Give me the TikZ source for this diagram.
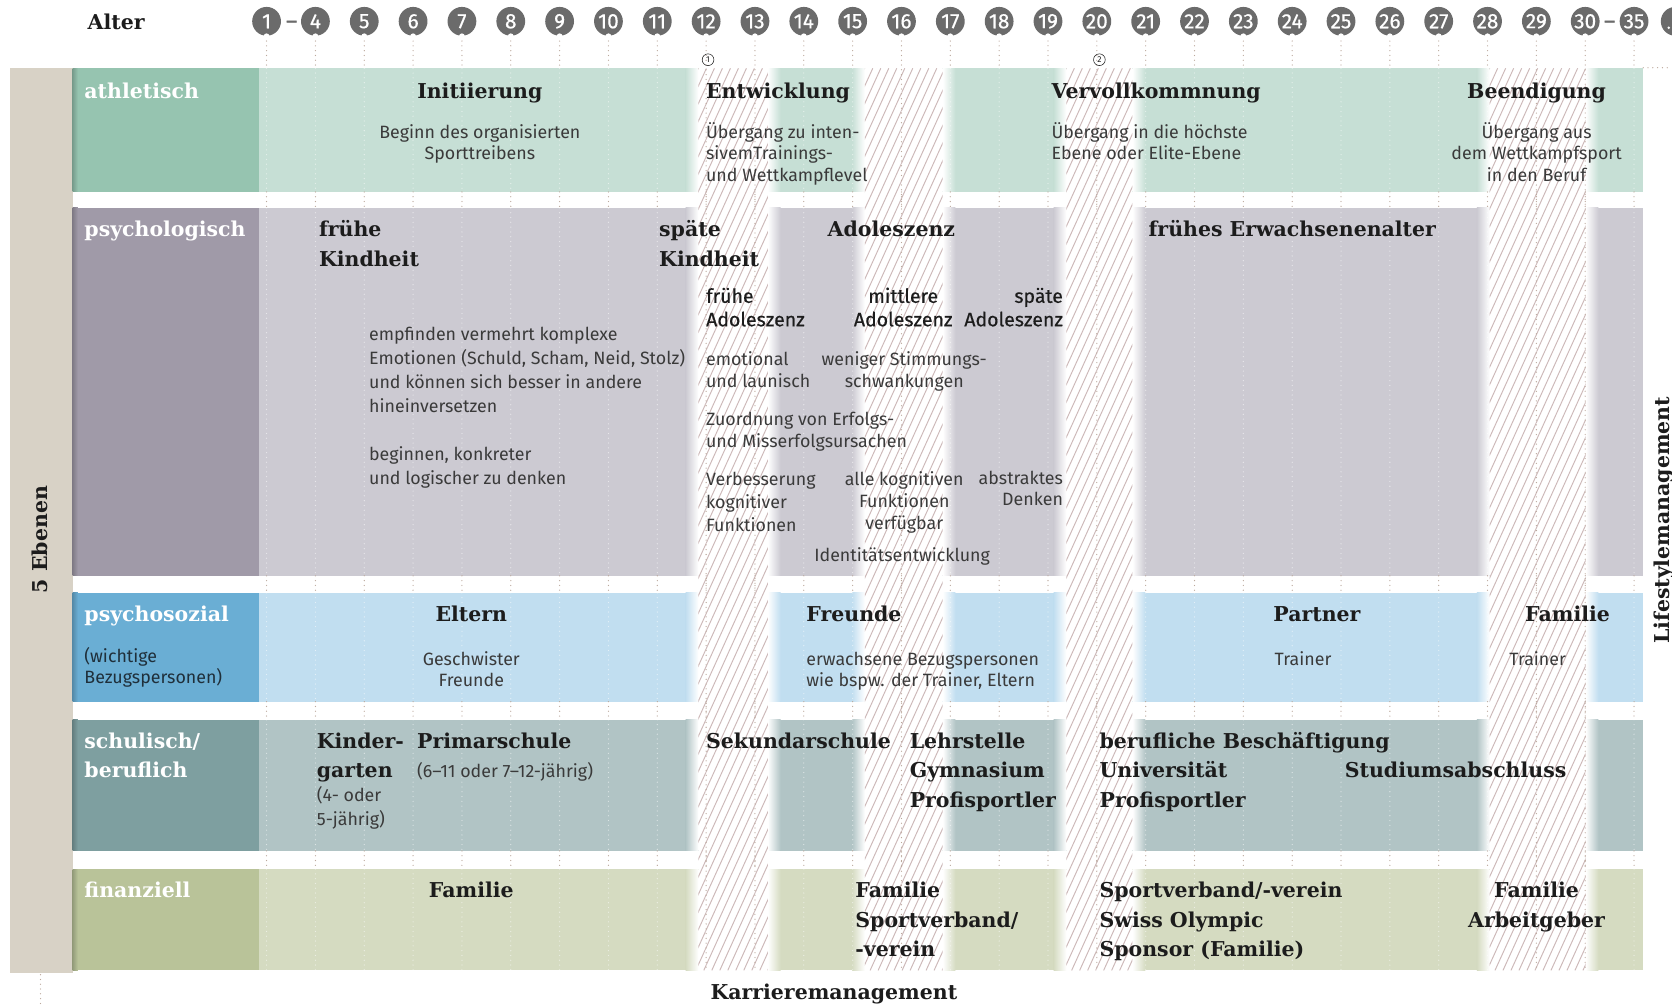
\documentclass[tikz,border=0pt]{standalone}
\usepackage{fontspec}
\setmainfont{DejaVu Serif}
\setsansfont{Fira Sans}
\newfontfamily\medfont{Fira Sans}[FakeBold=0.5]
\newfontfamily\dashfont{Fira Sans}[FakeBold=2]
\definecolor{tanbar}{HTML}{D8D2C6}
\definecolor{athL}{HTML}{96C4B0}
\definecolor{athC}{HTML}{C6DFD5}
\definecolor{psyL}{HTML}{A09AA8}
\definecolor{psyC}{HTML}{CCCAD2}
\definecolor{socL}{HTML}{6AAED4}
\definecolor{socC}{HTML}{C1DEF0}
\definecolor{schL}{HTML}{7E9FA0}
\definecolor{schC}{HTML}{B1C4C5}
\definecolor{finL}{HTML}{B9C399}
\definecolor{finC}{HTML}{D5DBC1}
\definecolor{agegray}{HTML}{6B6B6B}
\definecolor{hatchc}{HTML}{CDB9B9}
\definecolor{dotc}{HTML}{BBA89C}
\definecolor{headc}{HTML}{1C1C1C}
\definecolor{bodyc}{HTML}{3A3A3A}
\definecolor{socT}{HTML}{1F2F3A}
\tikzset{
 head/.style={font=\fontsize{19.2}{27}\selectfont\bfseries, text=headc, inner sep=0pt},
 lab/.style={font=\fontsize{19.2}{27}\selectfont\bfseries, text=white, inner sep=0pt},
 body/.style={font=\sffamily\fontsize{16.7}{20}\selectfont, text=bodyc, inner sep=0pt},
 med/.style={font=\medfont\fontsize{18.3}{22}\selectfont, text=headc, inner sep=0pt},
 agecirc/.style={circle, fill=agegray, minimum size=27pt, inner sep=0pt, text=white, font=\medfont\fontsize{19.5}{19.5}\selectfont},
 agedash/.style={font=\dashfont\fontsize{20}{20}\selectfont, text=agegray, inner sep=0pt, anchor=base},
 hatch/.style={draw=hatchc, line width=0.9pt},
 dots/.style={line width=1.2pt, dash pattern=on 0pt off 4.5pt, line cap=round}
}
\newcommand\ML[7]{%
 \foreach \mytl [count=\k from 0] in {#7}{\node[#1,anchor=#2] (#3\k) at (#4,{#5+\k*#6}) {\mytl};}}
\begin{document}
\begin{tikzpicture}[x=1pt,y=-1pt]
\useasboundingbox (0,0) rectangle (1568,942);
\fill[white] (0,0) rectangle (1568,942);
% tan bar
\fill[tanbar] (9,64) rectangle (68,912);
% rows
\foreach \ya/\yb/\cl/\cc in {64/180/athL/athC,195/540/psyL/psyC,556/658/socL/socC,675/798/schL/schC,815/910/finL/finC}{
 \fill[\cl] (68,\ya) rectangle (243,\yb);
 \shade[left color=\cl!80!black, right color=\cl] (68,\ya) rectangle (73,\yb);
 \fill[\cc] (243,\ya) rectangle (1541,\yb);
 \foreach \xa/\xb in {655/720,811/884,1000/1062,1397/1487}{
  \shade[left color=\cc, right color=white] ({\xa-12},\ya) rectangle (\xa,\yb);
  \shade[left color=white, right color=\cc] (\xb,\ya) rectangle ({\xb+12},\yb);
 }
}
% hatched transition bands
\foreach \xa/\xb in {655/720,811/884,1000/1062,1397/1487}{
 \begin{scope}
  \clip (\xa,64) rectangle (\xb,910);
  \fill[white] (\xa,64) rectangle (\xb,910);
  \foreach \s in {0,...,68} \draw[hatch] ({\xa-385+\s*7.5},910) -- ++(385,-846);
 \end{scope}
}
% dotted age lines
\foreach \i in {0,...,28}{
 \pgfmathsetmacro\xx{250+45.8*\i}
 \foreach \ya/\yb in {34/64,180/195,540/556,658/675,798/815} \draw[dots,dotc] (\xx,\ya)--(\xx,\yb);
 \foreach \ya/\yb in {64/180,195/540,556/658,675/798,815/910} \draw[dots,white,opacity=0.55] (\xx,\ya)--(\xx,\yb);
}
\begin{scope}
 \clip (655,64) rectangle (720,910) (811,64) rectangle (884,910) (1000,64) rectangle (1062,910) (1397,64) rectangle (1487,910);
 \foreach \i in {0,...,28}{\pgfmathsetmacro\xx{250+45.8*\i}\draw[dots,dotc] (\xx,34)--(\xx,910);}
\end{scope}
\draw[dots,dotc] (1541,63.5) -- (1568,63.5);
\draw[dots,dotc] (38,914) -- (38,942);
% age circles
\foreach \n [count=\i from 0] in {1,4,5,6,7,8,9,10,11,12,13,14,15,16,17,18,19,20,21,22,23,24,25,26,27,28,29,30,35}{
 \node[agecirc] (age\i) at ({250+45.8*\i},20) {\n};
 \fill[white] ({250+45.8*\i},34) circle (2.7pt);
}
\fill[agegray] (1571,20) circle (13.5pt);
\fill[white] (1565,26) circle (1.3pt);
\node[agedash] (dash1) at (273.5,26.5) {–};
\node[agedash] (dash2) at (1509.5,26.5) {–};
\node[circle, draw=headc, line width=0.5pt, inner sep=0pt, minimum size=11pt, font=\sffamily\fontsize{8}{8}\selectfont, text=headc] (m1) at (664,56) {1};
\node[circle, draw=headc, line width=0.5pt, inner sep=0pt, minimum size=11pt, font=\sffamily\fontsize{8}{8}\selectfont, text=headc] (m2) at (1031,56) {2};
% header
\node[head,anchor=base west] (alter) at (82,28) {Alter};
% athletisch
\node[lab,anchor=base west] (lath) at (79,92) {athletisch};
\node[head,anchor=base] (ini) at (450,92) {Initiierung};
\ML{body}{base}{inid}{450}{130}{20}{Beginn des organisierten,Sporttreibens}
\node[head,anchor=base west] (ent) at (662,92) {Entwicklung};
\ML{body}{base west}{entd}{662}{130}{20}{Übergang zu inten-,sivemTrainings-,und Wettkampflevel}
\node[head,anchor=base west] (ver) at (986,92) {Vervollkommnung};
\ML{body}{base west}{verd}{986}{130}{20}{Übergang in die höchste,Ebene oder Elite-Ebene}
\node[head,anchor=base] (bee) at (1441,92) {Beendigung};
\ML{body}{base}{beed}{1441}{130}{20}{Übergang aus,dem Wettkampfsport,in den Beruf}
% psychologisch
\node[lab,anchor=base west] (lpsy) at (79,222) {psychologisch};
\ML{head}{base west}{fk}{299}{222}{27.5}{frühe,Kindheit}
\ML{head}{base west}{sk}{618}{222}{27.5}{späte,Kindheit}
\node[head,anchor=base west] (ado) at (776,222) {Adoleszenz};
\node[head,anchor=base west] (fea) at (1077,222) {frühes Erwachsenenalter};
\ML{med}{base west}{fa}{662}{284}{22}{frühe,Adoleszenz}
\ML{med}{base}{ma}{847}{284}{22}{mittlere,Adoleszenz}
\ML{med}{base east}{spa}{997}{284}{22}{späte,Adoleszenz}
\ML{body}{base west}{emo}{346}{319}{22.6}{empfinden vermehrt komplexe,{Emotionen (Schuld, Scham, Neid, Stolz)},und können sich besser in andere,hineinversetzen}
\ML{body}{base west}{beg}{346}{432}{22.6}{{beginnen, konkreter},und logischer zu denken}
\ML{body}{base west}{eml}{662}{343}{20.5}{emotional,und launisch}
\ML{body}{base}{wen}{848}{343}{20.5}{weniger Stimmungs-,schwankungen}
\ML{body}{base west}{zuo}{662}{399}{21}{Zuordnung von Erfolgs-,und Misserfolgsursachen}
\ML{body}{base west}{vbk}{662}{455}{21.5}{Verbesserung,kognitiver,Funktionen}
\ML{body}{base}{akf}{848}{455}{21}{alle kognitiven,Funktionen,verfügbar}
\ML{body}{base east}{abd}{997}{454}{20.5}{abstraktes,Denken}
\node[body,anchor=base] (ide) at (846,527) {Identitätsentwicklung};
% psychosozial
\node[lab,anchor=base west] (lsoc) at (79,583) {psychosozial};
\ML{body,text=socT}{base west}{wbz}{79}{621}{20}{{(wichtige},{Bezugspersonen)}}
\node[head,anchor=base] (elt) at (442,583) {Eltern};
\ML{body}{base}{gf}{442}{624}{20}{Geschwister,Freunde}
\node[head,anchor=base west] (fre) at (756,583) {Freunde};
\ML{body}{base west}{erw}{756}{624}{20}{erwachsene Bezugspersonen,{wie bspw. der Trainer, Eltern}}
\node[head,anchor=base] (par) at (1235,583) {Partner};
\node[body,anchor=base] (tr1) at (1222,624) {Trainer};
\node[head,anchor=base] (fam1) at (1470,583) {Familie};
\node[body,anchor=base] (tr2) at (1442,624) {Trainer};
% schulisch / beruflich
\ML{lab}{base west}{lsch}{79}{702}{27.5}{schulisch/,beruflich}
\ML{head}{base west}{kg}{297}{702}{27.5}{Kinder-,garten}
\ML{body}{base west}{kga}{297}{752}{22}{{(4- oder},{5-jährig)}}
\node[head,anchor=base west] (prim) at (391,702) {Primarschule};
\node[body,anchor=base west] (prima) at (391,729) {(6–11 oder 7–12-jährig)};
\node[head,anchor=base west] (sek) at (662,702) {Sekundarschule};
\ML{head}{base west}{leh}{853}{702}{27.5}{Lehrstelle,Gymnasium,Profisportler}
\ML{head}{base west}{bb}{1031}{702}{27.5}{berufliche Beschäftigung,Universität,Profisportler}
\node[head,anchor=base west] (stu) at (1261,729) {Studiumsabschluss};
% finanziell
\node[lab,anchor=base west] (lfin) at (79,842) {finanziell};
\node[head,anchor=base] (fam2) at (442,842) {Familie};
\ML{head}{base west}{fsv}{802}{842}{27.5}{Familie,Sportverband/,-verein}
\ML{head}{base west}{svs}{1031}{842}{27.5}{Sportverband/-verein,Swiss Olympic,Sponsor (Familie)}
\ML{head}{base}{faa}{1441}{842}{27.5}{Familie,Arbeitgeber}
% side labels
\node[head,rotate=90,anchor=base] (ebenen) at (45,506) {5 Ebenen};
\node[head,rotate=90,anchor=base] (life) at (1566,488) {Lifestylemanagement};
\node[head,anchor=base] (karr) at (782,937) {Karrieremanagement};
\end{tikzpicture}
\end{document}
